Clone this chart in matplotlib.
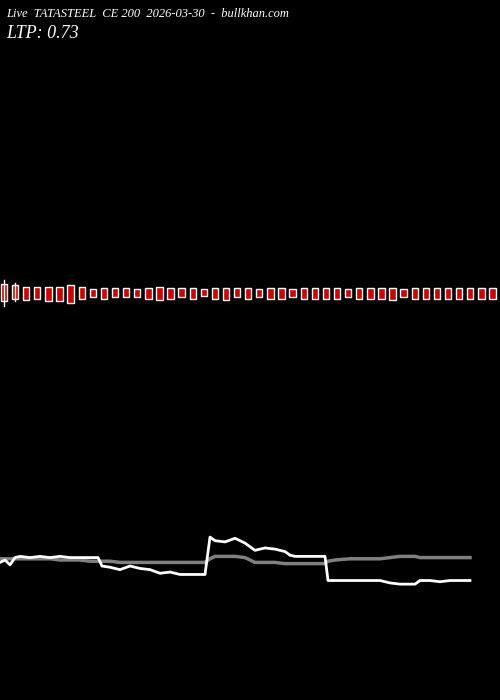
import numpy as np
import matplotlib.pyplot as plt
from matplotlib.patches import Rectangle

# candle bodies: top and bottom (price-like units, higher = up)
candle_top = [9, 8, 7, 7, 7, 7, 8, 7, 5, 6, 6, 6, 5, 6, 7, 6, 6, 6, 5, 6, 6, 6, 6,
              5, 6, 6, 5, 6, 6, 6, 6, 5, 6, 6, 6, 6, 5, 6, 6, 6, 6, 6, 6, 6, 6]
candle_bot = [-4, -2, -3, -2, -4, -4, -5, -2, -1, -2, -1, -1, -1, -2, -3, -2, -1, -2,
              0, -2, -3, -1, -2, -1, -2, -2, -1, -2, -2, -2, -2, -1, -2, -2, -2, -3,
              -1, -2, -2, -2, -2, -2, -2, -2, -2]
wick_top = [12, 10] + [None] * 43
wick_bot = [-7, -4] + [None] * 43

# price lines (white = option price, grey = underlying)
line_x = [0, 5, 10, 15, 20, 30, 40, 50, 60, 70, 80, 90, 98, 102, 110, 120, 130, 140,
          150, 160, 170, 180, 190, 200, 205, 210, 215, 225, 235, 245, 255, 265, 275,
          285, 290, 295, 305, 315, 325, 328, 335, 350, 365, 380, 390, 400, 410, 415,
          420, 430, 440, 450, 460, 470]
white = [-2, 0, -4, 2, 3, 2, 3, 2, 3, 2, 2, 2, 2, -5, -6, -8, -5, -7, -8, -11, -10,
         -12, -12, -12, -12, 19, 16, 15, 18, 14, 8, 10, 9, 7, 4, 3, 3, 3, 3, -17, -17,
         -17, -17, -17, -19, -20, -20, -20, -17, -17, -18, -17, -17, -17]
grey = [1, 1, 1, 1, 1, 1, 1, 1, 0, 0, 0, -1, -1, -1, -1, -2, -2, -2, -2, -2, -2, -2,
        -2, -2, -2, 1, 3, 3, 3, 2, -2, -2, -2, -3, -3, -3, -3, -3, -3, -1, 0, 1, 1,
        1, 2, 3, 3, 3, 2, 2, 2, 2, 2, 2]

fig = plt.figure(figsize=(5, 7), dpi=100, facecolor='black')

ax1 = fig.add_axes([0, 0.477, 1, 0.2])
ax1.set_facecolor('black')
for i, (t, b) in enumerate(zip(candle_top, candle_bot)):
    x = 4 + i * 11.1
    if wick_top[i] is not None:
        ax1.plot([x, x], [wick_bot[i], wick_top[i]], color='white', lw=1)
    ax1.add_patch(Rectangle((x - 3.2, b), 6.4, t - b, facecolor='#cc0000',
                            edgecolor='white', lw=1))
ax1.set_xlim(0, 500)
ax1.set_ylim(-52, 52)
ax1.axis('off')

ax2 = fig.add_axes([0, 0.1, 1, 0.2])
ax2.set_facecolor('black')
ax2.plot(line_x, grey, color='#808080', lw=2.5)
ax2.plot(line_x, white, color='white', lw=2)
ax2.set_xlim(0, 500)
ax2.set_ylim(-58, 58)
ax2.axis('off')

fig.text(0.012, 0.988, 'Live  TATASTEEL  CE 200  2026-03-30  -  bullkhan.com',
         color='white', fontsize=9, family='Liberation Serif', style='italic', va='top')
fig.text(0.012, 0.965, 'LTP: 0.73', color='white', fontsize=13,
         family='Liberation Serif', style='italic', va='top')

fig.savefig('out.png', facecolor='black')
